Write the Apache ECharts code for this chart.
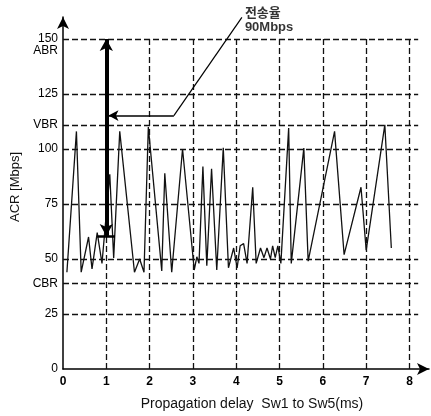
<!DOCTYPE html>
<html>
<head>
<meta charset="utf-8">
<script src="https://cdn.jsdelivr.net/npm/echarts@6/dist/echarts.min.js"></script>
<style>
html,body{margin:0;padding:0;background:#fff;}
#acrChart{width:431px;height:416px;}
</style>
</head>
<body>
<div id="acrChart"></div>
<script>
// propagation delay (ms) / ACR (Mbps)
var delayMs=[0.09,0.31,0.42,0.59,0.67,0.79,0.90,1.08,1.17,1.31,1.65,1.77,1.87,1.97,2.28,2.35,2.51,2.76,3.03,3.09,3.14,3.23,3.32,3.43,3.55,3.70,3.82,3.94,4.02,4.09,4.17,4.25,4.38,4.46,4.56,4.64,4.71,4.79,4.84,4.90,4.96,5.03,5.21,5.27,5.56,5.66,6.27,6.49,6.88,7.00,7.43,7.58];
var acrMbps=[44,108,44,60,45.5,62,48,88.5,50.5,108,44,50,44,110,44.6,89,44,100,45,51,48,92,47,91,45,100.5,46,55,46,56,57,48,82.6,48,55,50.6,55,50,56,50.6,56,48,109.5,48,100.4,49,108,52,82.6,54,111,55];

var xTicks=[0,1,2,3,4,5,6,7,8];
var yTicks=[0,25,39,50,75,100,111,125,150];
var yTickNames={0:'0',25:'25',39:'CBR',50:'50',75:'75',100:'100',111:'VBR',125:'125',150:'\n150\nABR'};
var gridRows=[25,39,50,75,100,111,125,150];
var gridCols=[1,2,3,4,5,6,7,8];
var gridRight=8.2, gridTop=150;

// 전송율 annotation: 60 -> 150 = 90Mbps
var rateX=1.0, rateLow=60.5, rateHigh=150;
var pointerY=115.2, pointerFromX=2.56, pointerToX=1.05;
var noteAt=[4.13,159.8];
var noteText='전송율\n90Mbps';

var fontName='"Liberation Sans", Arial, "Noto Sans CJK KR", sans-serif';

function buildGridLines(){
    var lines=[];
    for(var i=0;i<gridRows.length;i++){
        lines.push([{coord:[0,gridRows[i]]},{coord:[gridRight,gridRows[i]]}]);
    }
    for(var j=0;j<gridCols.length;j++){
        lines.push([{coord:[gridCols[j],0]},{coord:[gridCols[j],gridTop]}]);
    }
    return lines;
}

function buildSeriesData(){
    var arr=[];
    for(var i=0;i<delayMs.length;i++){
        arr.push([delayMs[i],acrMbps[i]]);
    }
    return arr;
}

var myChart=echarts.init(document.getElementById('acrChart'),null,{renderer:'canvas'});
var option={
    animation:false,
    backgroundColor:'#fff',
    textStyle:{fontFamily:fontName,color:'#000'},
    grid:{left:63,right:2,top:17,bottom:41,containLabel:false},
    xAxis:{
        type:'value',min:0,max:8.45,
        name:'Propagation delay  Sw1 to Sw5(ms)',
        nameLocation:'middle',nameGap:28,
        nameTextStyle:{fontSize:14,color:'#111',fontFamily:fontName,padding:[0,0,0,12]},
        axisLine:{show:true,symbol:['none','arrow'],symbolSize:[9,12],lineStyle:{color:'#000',width:1.5}},
        axisTick:{show:false,customValues:xTicks},
        axisLabel:{customValues:xTicks,margin:7,fontSize:12,color:'#000',fontFamily:fontName,fontWeight:'bold'},
        splitLine:{show:false}
    },
    yAxis:{
        type:'value',min:0,max:160,
        name:'ACR [Mbps]',
        nameLocation:'middle',nameGap:34,
        nameTextStyle:{fontSize:13,color:'#111',fontFamily:fontName,padding:[0,0,0,12]},
        axisLine:{show:true,symbol:['none','arrow'],symbolSize:[9,12],lineStyle:{color:'#000',width:1.5}},
        axisTick:{show:false,customValues:yTicks},
        axisLabel:{
            customValues:yTicks,margin:5,fontSize:12,lineHeight:12,color:'#000',fontFamily:fontName,
            formatter:function(v){ return yTickNames[v]!=null?yTickNames[v]:''; }
        },
        splitLine:{show:false}
    },
    series:[
        {
            name:'grid',type:'line',data:[],silent:true,z:1,
            markLine:{
                silent:true,symbol:'none',label:{show:false},
                lineStyle:{color:'#111',width:1.3,type:[6,3]},
                data:buildGridLines()
            }
        },
        {
            name:'ACR',type:'line',data:buildSeriesData(),
            symbol:'none',z:3,
            lineStyle:{color:'#111',width:1.3}
        },
        {
            name:'rate',type:'line',data:[],silent:true,z:4,
            markLine:{
                silent:true,label:{show:false},
                data:[
                    [{coord:[rateX,rateLow],symbol:'arrow',symbolSize:[10,12],lineStyle:{color:'#000',width:4,type:'solid'}},
                     {coord:[rateX,rateHigh],symbol:'arrow',symbolSize:[10,12]}],
                    [{coord:[rateX-0.2,rateLow],symbol:'none',lineStyle:{color:'#000',width:2.5,type:'solid'}},
                     {coord:[rateX+0.2,rateLow],symbol:'none'}],
                    [{coord:[pointerFromX,pointerY],symbol:'none',lineStyle:{color:'#000',width:1.5,type:'solid'}},
                     {coord:[pointerToX,pointerY],symbol:'arrow',symbolSize:[8,10]}],
                    [{coord:[pointerFromX,pointerY],symbol:'none',lineStyle:{color:'#000',width:1.2,type:'solid'}},
                     {coord:noteAt,symbol:'none'}]
                ]
            }
        },
        {
            name:'note',type:'scatter',data:[noteAt],symbolSize:0,silent:true,z:5,
            label:{
                show:true,position:'right',distance:3,offset:[0,3],
                formatter:noteText,align:'left',
                fontSize:13,lineHeight:14,fontWeight:'bold',color:'#000',fontFamily:fontName
            }
        }
    ]
};
myChart.setOption(option);
</script>
</body>
</html>
